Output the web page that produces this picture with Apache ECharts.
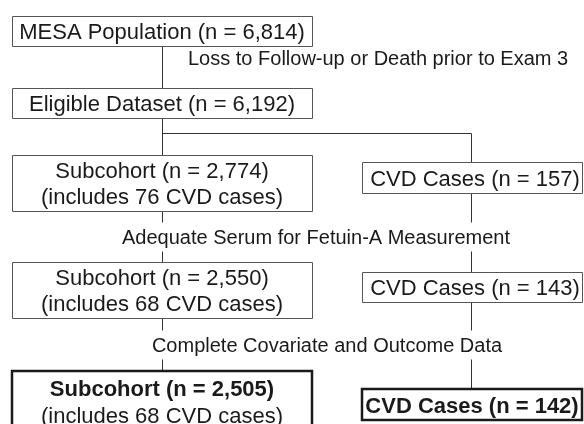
<!DOCTYPE html>
<html>
<head>
<meta charset="utf-8">
<script src="https://cdn.jsdelivr.net/npm/echarts@6/dist/echarts.min.js"></script>
<style>
  html, body { margin: 0; padding: 0; background: #fff; }
  #chart { width: 584px; height: 424px; }
</style>
</head>
<body>
<div id="chart"></div>
<script>
// flow chart data
var cohortNames = ['MESA Population', 'Eligible Dataset', 'Subcohort', 'Subcohort', 'Subcohort'];
var cohortN = ['6,814', '6,192', '2,774', '2,550', '2,505'];
var subcohortCases = [null, null, 76, 68, 68];
var caseN = ['157', '143', '142'];
var stepLabels = [
  'Loss to Follow-up or Death prior to Exam 3',
  'Adequate Serum for Fetuin-A Measurement',
  'Complete Covariate and Outcome Data'
];

// layout (in axis units = pixels)
var leftBoxes = [[12, 312, 16, 46], [12, 312, 88, 118], [12, 312, 155, 211], [12, 312, 262, 318], [12, 312, 371, 432]];
var rightBoxes = [[362, 582, 162, 193], [362, 582, 272, 302], [362, 582, 389, 420]];
var labelPos = [[188, 59, 'left'], [316, 238, 'center'], [327, 346, 'center']];
var connectors = [
  [162, 46, 162, 88], [162, 118, 162, 155], [162, 133, 471, 133], [471, 133, 471, 162],
  [162, 211, 162, 222], [162, 251, 162, 262], [471, 193, 471, 222], [471, 251, 471, 272],
  [162, 318, 162, 330], [162, 359, 162, 371], [471, 302, 471, 330], [471, 359, 471, 389]
];

var FONT = '"Liberation Sans", Arial, Helvetica, sans-serif';

function boxText(i) {
  var t = cohortNames[i] + ' (n = ' + cohortN[i] + ')';
  if (subcohortCases[i] != null) {
    t += '\n(includes ' + subcohortCases[i] + ' CVD cases)';
  }
  return t;
}

var boxes = [];
for (var i = 0; i < cohortNames.length; i++) {
  boxes.push({ geo: leftBoxes[i], text: boxText(i), bold: i == cohortNames.length - 1, two: subcohortCases[i] != null, dx: 0 });
}
for (var j = 0; j < caseN.length; j++) {
  var last = j == caseN.length - 1;
  boxes.push({ geo: rightBoxes[j], text: 'CVD Cases (n = ' + caseN[j] + ')', bold: last, two: false, dx: last ? 0 : 3 });
}

function renderBox(params, api) {
  var b = boxes[api.value(0)];
  var g = b.geo;
  var p0 = api.coord([g[0], g[2]]);
  var p1 = api.coord([g[1], g[3]]);
  var off = b.bold ? 0 : 0.5;
  var rect = {
    type: 'rect',
    shape: { x: Math.round(p0[0]) + off, y: Math.round(p0[1]) + off, width: Math.round(p1[0] - p0[0]), height: Math.round(p1[1] - p0[1]) },
    style: { fill: '#fff', stroke: b.bold ? '#1a1a1a' : '#555', lineWidth: b.bold ? 2.5 : 1 }
  };
  var cx = (p0[0] + p1[0]) / 2 + b.dx, cy = (p0[1] + p1[1]) / 2 + 2;
  var txt;
  if (b.bold && b.two) {
    var parts = b.text.split('\n');
    txt = {
      type: 'text',
      style: {
        text: '{b|' + parts[0] + '}\n{n|' + parts[1] + '}',
        x: cx, y: cy, textAlign: 'center', textVerticalAlign: 'middle',
        rich: {
          b: { font: 'bold 22px ' + FONT, fill: '#1a1a1a', lineHeight: 27, align: 'center' },
          n: { font: '22px ' + FONT, fill: '#1a1a1a', lineHeight: 27, align: 'center' }
        }
      }
    };
  } else {
    txt = {
      type: 'text',
      style: {
        text: b.text, x: cx, y: cy, textAlign: 'center', textVerticalAlign: 'middle',
        font: (b.bold ? 'bold ' : '') + '22px ' + FONT, fill: '#1a1a1a', lineHeight: 26
      }
    };
  }
  return { type: 'group', children: [rect, txt] };
}

function renderLine(params, api) {
  var c = connectors[api.value(0)];
  var a = api.coord([c[0], c[1]]);
  var b = api.coord([c[2], c[3]]);
  return {
    type: 'line',
    shape: { x1: Math.round(a[0]) + 0.5, y1: Math.round(a[1]) + 0.5, x2: Math.round(b[0]) + 0.5, y2: Math.round(b[1]) + 0.5 },
    style: { stroke: '#333', lineWidth: 1 }
  };
}

function renderLabel(params, api) {
  var k = api.value(0);
  var lp = labelPos[k];
  var p = api.coord([lp[0], lp[1]]);
  return {
    type: 'text',
    style: {
      text: stepLabels[k], x: p[0], y: p[1], textAlign: lp[2], textVerticalAlign: 'middle',
      font: '20px ' + FONT, fill: '#1a1a1a'
    }
  };
}

function idx(arr) {
  var out = [];
  for (var i = 0; i < arr.length; i++) out.push([i]);
  return out;
}

var myChart = echarts.init(document.getElementById('chart'));
var option = {
  animation: false,
  grid: { left: 0, right: 0, top: 0, bottom: 0 },
  xAxis: { type: 'value', min: 0, max: 584, show: false },
  yAxis: { type: 'value', min: 0, max: 424, inverse: true, show: false },
  series: [
    { type: 'custom', renderItem: renderLine, data: idx(connectors), silent: true },
    { type: 'custom', renderItem: renderBox, data: idx(boxes), silent: true },
    { type: 'custom', renderItem: renderLabel, data: idx(stepLabels), silent: true }
  ]
};
myChart.setOption(option);
</script>
</body>
</html>
